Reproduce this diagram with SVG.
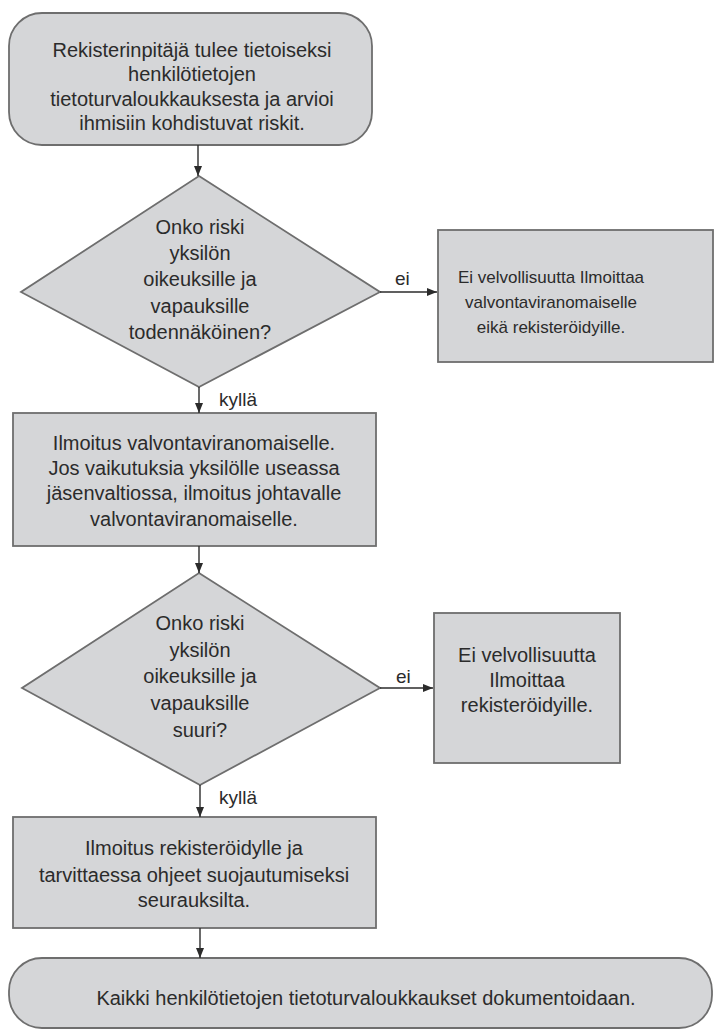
<svg xmlns="http://www.w3.org/2000/svg" width="715" height="1029" viewBox="0 0 715 1029">
<style>
.shape{fill:#d5d6d8;stroke:#6e6e6e;stroke-width:1.8}
.t{font-family:"Liberation Sans",Arial,sans-serif;font-size:20px;fill:#2b2b2b;text-anchor:middle}
.ts{font-size:17px}
.lbl{font-family:"Liberation Sans",Arial,sans-serif;font-size:19px;fill:#2b2b2b}
.conn{stroke:#2b2b2b;stroke-width:1.4;fill:none;marker-end:url(#ah)}
</style>
<defs>
<marker id="ah" viewBox="0 0 10 10" refX="10" refY="5" markerWidth="10" markerHeight="10" markerUnits="userSpaceOnUse" orient="auto">
<path d="M0,1 L10,5 L0,9 Z" fill="#2b2b2b"/>
</marker>
</defs>
<rect width="715" height="1029" fill="#ffffff"/>

<g id="start">
<rect class="shape" x="9" y="13" width="363" height="132" rx="33" ry="33"/>
<text class="t" x="192" y="57">Rekisterinpitäjä tulee tietoiseksi</text>
<text class="t" x="192" y="81">henkilötietojen</text>
<text class="t" x="192" y="106">tietoturvaloukkauksesta ja arvioi</text>
<text class="t" x="192" y="130">ihmisiin kohdistuvat riskit.</text>
</g>

<g id="decision1">
<polygon class="shape" points="199,176 380,292 199,387 21,292"/>
<text class="t" x="200" y="234">Onko riski</text>
<text class="t" x="200" y="260">yksilön</text>
<text class="t" x="200" y="286">oikeuksille ja</text>
<text class="t" x="200" y="313">vapauksille</text>
<text class="t" x="200" y="339">todennäköinen?</text>
</g>

<g id="no-duty1">
<rect class="shape" x="438" y="230" width="275" height="132"/>
<text class="t ts" x="551" y="283">Ei velvollisuutta Ilmoittaa</text>
<text class="t ts" x="551" y="308">valvontaviranomaiselle</text>
<text class="t ts" x="551" y="333">eikä rekisteröidyille.</text>
</g>

<g id="notify-authority">
<rect class="shape" x="13" y="413" width="363" height="133"/>
<text class="t" x="194" y="450">Ilmoitus valvontaviranomaiselle.</text>
<text class="t" x="194" y="475">Jos vaikutuksia yksilölle useassa</text>
<text class="t" x="194" y="500">jäsenvaltiossa, ilmoitus johtavalle</text>
<text class="t" x="194" y="526">valvontaviranomaiselle.</text>
</g>

<g id="decision2">
<polygon class="shape" points="199,573 380,688 200,785 22,688"/>
<text class="t" x="200" y="630">Onko riski</text>
<text class="t" x="200" y="657">yksilön</text>
<text class="t" x="200" y="683">oikeuksille ja</text>
<text class="t" x="200" y="710">vapauksille</text>
<text class="t" x="200" y="737">suuri?</text>
</g>

<g id="no-duty2">
<rect class="shape" x="434" y="613" width="186" height="150"/>
<text class="t" x="527" y="662">Ei velvollisuutta</text>
<text class="t" x="527" y="687">Ilmoittaa</text>
<text class="t" x="527" y="712">rekisteröidyille.</text>
</g>

<g id="notify-subjects">
<rect class="shape" x="13" y="817" width="363" height="111"/>
<text class="t" x="194" y="855">Ilmoitus rekisteröidylle ja</text>
<text class="t" x="194" y="882">tarvittaessa ohjeet suojautumiseksi</text>
<text class="t" x="194" y="907">seurauksilta.</text>
</g>

<g id="end">
<rect class="shape" x="9" y="958" width="703" height="70" rx="33" ry="33"/>
<text class="t" x="366" y="1005">Kaikki henkilötietojen tietoturvaloukkaukset dokumentoidaan.</text>
</g>

<g id="connectors">
<line class="conn" x1="198" y1="145" x2="198" y2="176"/>
<line class="conn" x1="380" y1="292" x2="437" y2="292"/>
<text class="lbl" x="395" y="285">ei</text>
<line class="conn" x1="199" y1="387" x2="199" y2="413"/>
<text class="lbl" x="219" y="406">kyllä</text>
<line class="conn" x1="199" y1="546" x2="199" y2="573"/>
<line class="conn" x1="380" y1="688" x2="433" y2="688"/>
<text class="lbl" x="396" y="683">ei</text>
<line class="conn" x1="200" y1="785" x2="200" y2="817"/>
<text class="lbl" x="219" y="804">kyllä</text>
<line class="conn" x1="200" y1="928" x2="200" y2="958"/>
</g>
</svg>
